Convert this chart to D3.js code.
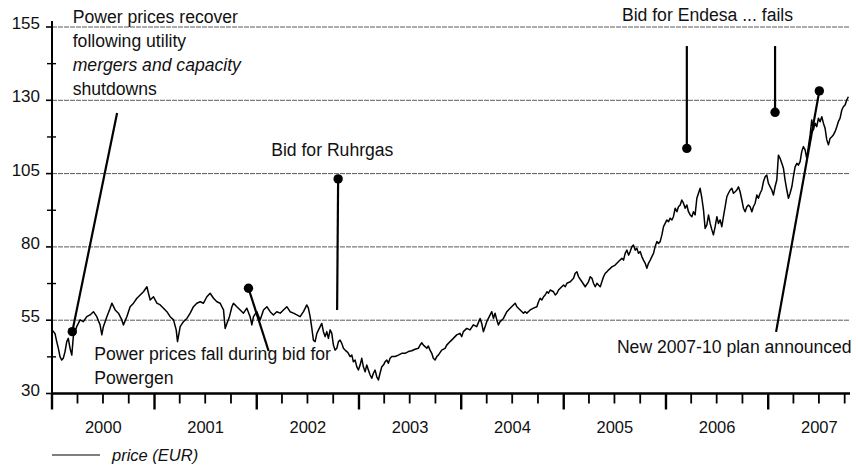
<!DOCTYPE html>
<html>
<head>
<meta charset="utf-8">
<script src="https://cdn.jsdelivr.net/npm/d3@7"></script>
<style>
  html, body { margin: 0; padding: 0; background: #ffffff; }
  svg { display: block; font-family: "Liberation Sans", Arial, Helvetica, sans-serif; }
</style>
</head>
<body>
<svg id="chart" width="858" height="467"></svg>
<script>
// Trading dates as decimal years, and closing price (EUR) on each date
const tradeDates = [
  2000.000, 2000.029, 2000.046, 2000.062, 2000.078, 2000.095, 2000.110, 2000.127, 2000.144, 2000.159,
  2000.176, 2000.193, 2000.208, 2000.241, 2000.274, 2000.306, 2000.339, 2000.371, 2000.404, 2000.437,
  2000.469, 2000.486, 2000.501, 2000.535, 2000.567, 2000.584, 2000.616, 2000.648, 2000.681, 2000.697,
  2000.730, 2000.762, 2000.795, 2000.828, 2000.860, 2000.892, 2000.926, 2000.941, 2000.958, 2000.990,
  2001.023, 2001.056, 2001.088, 2001.121, 2001.153, 2001.186, 2001.212, 2001.225, 2001.251, 2001.283,
  2001.317, 2001.349, 2001.381, 2001.414, 2001.447, 2001.479, 2001.512, 2001.544, 2001.577, 2001.610,
  2001.642, 2001.659, 2001.675, 2001.691, 2001.708, 2001.733, 2001.757, 2001.772, 2001.805, 2001.838,
  2001.870, 2001.903, 2001.935, 2001.952, 2001.968, 2002.001, 2002.033, 2002.066, 2002.099, 2002.131,
  2002.163, 2002.196, 2002.229, 2002.261, 2002.294, 2002.326, 2002.359, 2002.392, 2002.424, 2002.457,
  2002.490, 2002.505, 2002.522, 2002.539, 2002.554, 2002.571, 2002.588, 2002.620, 2002.636, 2002.652,
  2002.669, 2002.685, 2002.701, 2002.718, 2002.734, 2002.750, 2002.766, 2002.783, 2002.799, 2002.815,
  2002.832, 2002.848, 2002.864, 2002.881, 2002.896, 2002.913, 2002.930, 2002.945, 2002.962, 2002.979,
  2002.994, 2003.011, 2003.027, 2003.043, 2003.060, 2003.076, 2003.092, 2003.109, 2003.125, 2003.141,
  2003.157, 2003.174, 2003.190, 2003.206, 2003.223, 2003.239, 2003.255, 2003.272, 2003.287, 2003.304,
  2003.321, 2003.353, 2003.385, 2003.418, 2003.451, 2003.483, 2003.516, 2003.548, 2003.581, 2003.597,
  2003.614, 2003.630, 2003.646, 2003.663, 2003.678, 2003.695, 2003.712, 2003.727, 2003.744, 2003.761,
  2003.776, 2003.809, 2003.842, 2003.858, 2003.891, 2003.923, 2003.956, 2003.988, 2004.005, 2004.021,
  2004.054, 2004.086, 2004.118, 2004.151, 2004.184, 2004.200, 2004.216, 2004.233, 2004.249, 2004.265,
  2004.282, 2004.298, 2004.314, 2004.330, 2004.347, 2004.363, 2004.379, 2004.412, 2004.445, 2004.477,
  2004.509, 2004.526, 2004.543, 2004.575, 2004.607, 2004.624, 2004.640, 2004.673, 2004.705, 2004.738,
  2004.754, 2004.770, 2004.787, 2004.803, 2004.819, 2004.836, 2004.851, 2004.868, 2004.900, 2004.917,
  2004.934, 2004.949, 2004.966, 2004.998, 2005.015, 2005.031, 2005.064, 2005.096, 2005.112, 2005.129,
  2005.145, 2005.178, 2005.210, 2005.242, 2005.259, 2005.276, 2005.291, 2005.308, 2005.325, 2005.340,
  2005.357, 2005.373, 2005.389, 2005.406, 2005.422, 2005.438, 2005.471, 2005.503, 2005.536, 2005.569,
  2005.585, 2005.601, 2005.618, 2005.634, 2005.650, 2005.667, 2005.682, 2005.699, 2005.716, 2005.731,
  2005.748, 2005.764, 2005.780, 2005.797, 2005.813, 2005.829, 2005.846, 2005.862, 2005.878, 2005.894,
  2005.911, 2005.927, 2005.943, 2005.960, 2005.976, 2005.992, 2006.009, 2006.025, 2006.041, 2006.058,
  2006.073, 2006.090, 2006.107, 2006.122, 2006.139, 2006.155, 2006.171, 2006.188, 2006.204, 2006.220,
  2006.237, 2006.253, 2006.269, 2006.285, 2006.302, 2006.318, 2006.334, 2006.351, 2006.367, 2006.383,
  2006.400, 2006.416, 2006.432, 2006.449, 2006.464, 2006.481, 2006.498, 2006.513, 2006.530, 2006.546,
  2006.562, 2006.579, 2006.595, 2006.611, 2006.628, 2006.644, 2006.660, 2006.677, 2006.693, 2006.709,
  2006.725, 2006.742, 2006.758, 2006.774, 2006.791, 2006.807, 2006.823, 2006.840, 2006.855, 2006.872,
  2006.889, 2006.904, 2006.921, 2006.937, 2006.953, 2006.970, 2006.986, 2007.002, 2007.019, 2007.035,
  2007.051, 2007.067, 2007.084, 2007.100, 2007.116, 2007.133, 2007.149, 2007.165, 2007.182, 2007.198,
  2007.214, 2007.231, 2007.246, 2007.263, 2007.280, 2007.295, 2007.312, 2007.328, 2007.344, 2007.361,
  2007.377, 2007.393, 2007.410, 2007.426, 2007.442, 2007.459, 2007.475, 2007.491, 2007.507, 2007.524,
  2007.540, 2007.556, 2007.573, 2007.589, 2007.605, 2007.622, 2007.637, 2007.654, 2007.671, 2007.686,
  2007.703, 2007.720, 2007.735, 2007.752, 2007.768, 2007.784
];

const prices = [
  51.7, 50.5, 47.7, 45.4, 42.6, 41.4, 42.0, 44.3, 47.7, 48.8,
  45.4, 43.1, 49.4, 52.8, 55.1, 54.5, 56.2, 56.8, 57.9, 56.2,
  53.4, 50.0, 52.8, 56.2, 59.1, 60.8, 58.5, 57.4, 55.1, 53.4,
  56.2, 59.6, 60.8, 62.5, 63.6, 64.7, 66.4, 64.2, 61.9, 63.0,
  60.8, 60.2, 59.1, 57.9, 56.2, 55.1, 51.7, 47.7, 52.8, 54.5,
  55.6, 57.4, 59.6, 60.8, 61.3, 60.8, 63.0, 64.2, 62.5, 61.3,
  60.8, 59.6, 58.5, 52.2, 53.9, 56.2, 59.6, 60.8, 59.6, 58.5,
  57.4, 59.1, 56.2, 53.4, 56.2, 57.9, 55.1, 58.5, 59.6, 57.9,
  56.8, 57.9, 57.4, 58.5, 59.6, 57.9, 57.4, 56.8, 56.2, 57.9,
  60.2, 59.1, 56.2, 52.2, 48.2, 47.7, 50.5, 52.8, 53.9, 51.1,
  49.4, 51.1, 48.8, 51.7, 50.5, 46.5, 44.8, 45.4, 47.7, 48.2,
  47.1, 45.4, 44.8, 44.3, 43.7, 42.6, 43.1, 40.8, 41.4, 39.1,
  38.0, 39.7, 42.0, 39.1, 37.4, 39.7, 38.0, 36.3, 35.2, 36.9,
  38.0, 35.7, 34.6, 36.9, 39.1, 39.7, 40.8, 41.4, 40.3, 42.0,
  42.6, 42.6, 43.1, 43.7, 43.7, 44.3, 44.6, 45.1, 45.4, 46.5,
  47.3, 46.5, 46.0, 45.4, 46.2, 44.8, 43.7, 42.0, 41.4, 42.6,
  43.1, 44.8, 45.4, 46.5, 47.7, 48.8, 50.0, 50.5, 49.4, 51.1,
  52.2, 51.7, 53.4, 52.8, 55.6, 53.9, 51.1, 52.8, 54.5, 55.6,
  56.8, 57.9, 55.6, 57.4, 55.1, 53.4, 54.5, 55.6, 57.9, 59.1,
  60.2, 60.8, 59.6, 58.5, 57.4, 57.9, 57.4, 58.5, 59.1, 59.6,
  61.3, 62.5, 61.9, 63.0, 63.6, 64.7, 64.2, 65.3, 64.7, 63.6,
  64.2, 65.3, 65.9, 67.0, 66.4, 67.6, 68.1, 69.3, 71.0, 71.5,
  69.8, 68.1, 66.4, 68.1, 69.8, 69.3, 67.6, 66.4, 67.6, 67.0,
  66.4, 68.1, 69.8, 71.0, 71.5, 72.1, 73.2, 73.8, 75.0, 76.1,
  75.5, 77.8, 78.9, 77.2, 78.4, 80.1, 80.6, 78.9, 79.5, 77.8,
  78.4, 76.7, 75.5, 74.4, 72.7, 74.4, 75.5, 76.7, 77.8, 80.1,
  81.8, 81.2, 81.8, 84.1, 86.9, 88.0, 89.2, 88.6, 89.8, 89.2,
  90.3, 93.2, 92.0, 93.7, 94.3, 96.0, 94.9, 93.2, 94.3, 92.0,
  90.9, 90.3, 92.0, 90.9, 96.6, 98.3, 100.0, 96.6, 92.6, 86.3,
  87.5, 90.9, 88.0, 85.8, 84.1, 86.9, 90.3, 88.0, 89.2, 86.9,
  90.3, 93.7, 97.1, 98.3, 99.4, 100.0, 98.3, 98.8, 99.4, 100.5,
  98.8, 96.0, 93.2, 92.0, 93.7, 94.3, 93.7, 92.0, 93.7, 94.9,
  97.7, 96.6, 98.3, 99.4, 102.2, 103.9, 104.5, 101.7, 100.5, 99.4,
  97.7, 100.5, 102.8, 111.3, 110.2, 108.5, 106.8, 102.8, 99.4, 96.6,
  98.3, 100.5, 103.9, 107.3, 108.5, 107.9, 109.1, 112.5, 114.2, 113.1,
  110.2, 114.2, 118.2, 123.3, 119.9, 122.2, 121.0, 123.9, 122.7, 124.4,
  122.2, 120.5, 116.5, 114.8, 117.0, 117.6, 118.2, 119.3, 121.0, 122.7,
  123.9, 126.7, 127.8, 128.4, 130.1, 131.2
];

const seriesName = "price (EUR)";
const yTickValues = [30, 55, 80, 105, 130, 155];
const yMinorTickValues = [42.5, 67.5, 92.5, 117.5, 142.5];
const yearLabels = ["2000", "2001", "2002", "2003", "2004", "2005", "2006", "2007"];
const periodStart = 2000.0;
const periodEnd = 2007.8;

// Event notes: text lines anchored at (decimal year, price of first baseline)
const noteLines = [
  ["Power prices recover", "following utility", "mergers and capacity", "shutdowns"],
  ["Power prices fall during bid for", "Powergen"],
  ["Bid for Ruhrgas"],
  ["Bid for Endesa ... fails"],
  ["New 2007-10 plan announced"]
];
const noteItalicLine = [2, -1, -1, -1, -1];
const noteAnchorDate = [2000.202, 2000.413, 2002.141, 2005.569, 2005.520];
const noteAnchorPrice = [156.5, 41.4, 111.0, 157.1, 43.8];

// Event markers: dot at (date, price) with a leader running to (date, price)
const markerDotDate = [2000.198, 2001.919, 2002.796, 2006.204, 2007.067, 2007.500];
const markerDotPrice = [51.1, 65.9, 103.2, 113.6, 125.9, 133.2];
const markerEndDate = [2000.635, 2002.116, 2002.786, 2006.204, 2007.067, 2007.077];
const markerEndPrice = [125.7, 44.5, 58.5, 148.5, 148.5, 51.0];

// Decimal year -> UTC Date
function toDate(y) {
  const yr = Math.floor(y);
  const a = Date.UTC(yr, 0, 1), b = Date.UTC(yr + 1, 0, 1);
  return new Date(a + (y - yr) * (b - a));
}

const series = tradeDates.map((d, i) => ({ date: toDate(d), price: prices[i] }));

const svg = d3.select("#chart");
const x = d3.scaleUtc().domain([toDate(periodStart), toDate(periodEnd)]).range([52, 850]);
const y = d3.scaleLinear().domain([30, 155]).range([393.5, 27]);

// Horizontal gridlines
svg.append("g")
  .selectAll("line")
  .data(yTickValues.filter(v => v > 30))
  .join("line")
  .attr("x1", x.range()[0]).attr("x2", x.range()[1])
  .attr("y1", d => y(d)).attr("y2", d => y(d))
  .attr("stroke", "#5a5a5a")
  .attr("stroke-width", 1)
  .attr("stroke-dasharray", "5 1");

// Notes
const notes = svg.append("g").attr("fill", "#111").style("font-size", "17.6px");
noteLines.forEach((lines, i) => {
  const t = notes.append("text")
    .attr("x", x(toDate(noteAnchorDate[i])))
    .attr("y", y(noteAnchorPrice[i]));
  const lh = lines.length > 2 ? 24 : 23.5;
  lines.forEach((s, j) => {
    t.append("tspan")
      .attr("x", x(toDate(noteAnchorDate[i])))
      .attr("y", y(noteAnchorPrice[i]) + j * lh)
      .style("font-style", noteItalicLine[i] === j ? "italic" : "normal")
      .text(s);
  });
});

// Price line
const line = d3.line().x(d => x(d.date)).y(d => y(d.price));
svg.append("path")
  .datum(series)
  .attr("fill", "none")
  .attr("stroke", "#000")
  .attr("stroke-width", 1.5)
  .attr("stroke-linejoin", "round")
  .attr("d", line);

// Event leaders and dots
const markers = svg.append("g");
markerDotDate.forEach((d, i) => {
  markers.append("line")
    .attr("x1", x(toDate(d))).attr("y1", y(markerDotPrice[i]))
    .attr("x2", x(toDate(markerEndDate[i]))).attr("y2", y(markerEndPrice[i]))
    .attr("stroke", "#000").attr("stroke-width", 2.2);
  markers.append("circle")
    .attr("cx", x(toDate(d))).attr("cy", y(markerDotPrice[i]))
    .attr("r", 4.7).attr("fill", "#000");
});

// Y axis
const yAxis = svg.append("g");
yAxis.append("line")
  .attr("x1", 52).attr("x2", 52)
  .attr("y1", y(155) - 6).attr("y2", y(30))
  .attr("stroke", "#000").attr("stroke-width", 2);
yAxis.selectAll(".major")
  .data(yTickValues)
  .join("line")
  .attr("x1", 46).attr("x2", 52)
  .attr("y1", d => y(d)).attr("y2", d => y(d))
  .attr("stroke", "#000").attr("stroke-width", 1.6);
yAxis.selectAll(".minor")
  .data(yMinorTickValues)
  .join("line")
  .attr("x1", 47).attr("x2", 56)
  .attr("y1", d => y(d)).attr("y2", d => y(d))
  .attr("stroke", "#000").attr("stroke-width", 1.4);
yAxis.selectAll("text")
  .data(yTickValues)
  .join("text")
  .attr("x", 40)
  .attr("y", d => y(d) + 2)
  .attr("text-anchor", "end")
  .style("font-family", "'Liberation Sans Narrow', 'Arial Narrow', 'Liberation Sans', Arial, sans-serif")
  .style("font-size", "17px")
  .attr("fill", "#111")
  .text(d => d);

// X axis with quarterly ticks, taller at year boundaries
const xAxis = svg.append("g");
xAxis.append("line")
  .attr("x1", 52).attr("x2", 850)
  .attr("y1", y(30)).attr("y2", y(30))
  .attr("stroke", "#000").attr("stroke-width", 2.5);
const quarters = d3.utcMonth.every(3).range(toDate(periodStart), toDate(periodEnd));
xAxis.selectAll(".tick")
  .data(quarters)
  .join("line")
  .attr("x1", d => x(d)).attr("x2", d => x(d))
  .attr("y1", y(30))
  .attr("y2", d => y(30) + (d.getUTCMonth() === 0 ? 16 : 10))
  .attr("stroke", "#000")
  .attr("stroke-width", d => d.getUTCMonth() === 0 ? 2.4 : 1.8);
xAxis.selectAll("text")
  .data(yearLabels)
  .join("text")
  .attr("x", d => x(toDate(+d + 0.5)))
  .attr("y", 433)
  .attr("text-anchor", "middle")
  .style("font-size", "16.5px")
  .attr("fill", "#111")
  .text(d => d);

// Legend
const legend = svg.append("g");
legend.append("line")
  .attr("x1", 52).attr("x2", 100)
  .attr("y1", 455).attr("y2", 455)
  .attr("stroke", "#000").attr("stroke-width", 1.2);
legend.append("text")
  .attr("x", 112).attr("y", 461)
  .style("font-size", "16.5px")
  .style("font-style", "italic")
  .attr("fill", "#111")
  .text(seriesName);
</script>
</body>
</html>
